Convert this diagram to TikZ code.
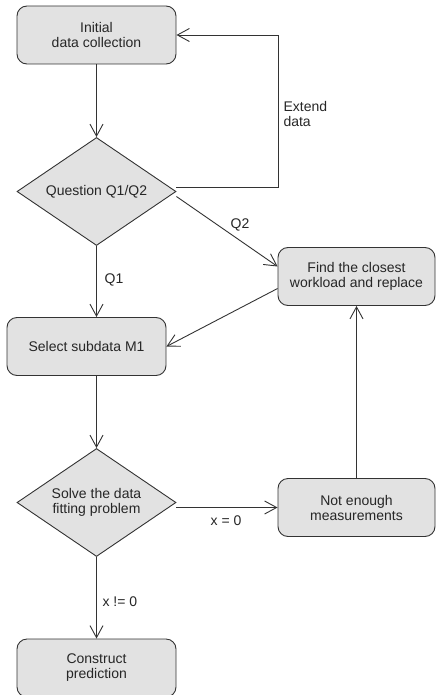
\documentclass[tikz,border=0pt]{standalone}
\usepackage{fontspec}
\setmainfont{Liberation Sans}
\usetikzlibrary{shapes.geometric,arrows.meta}
\definecolor{boxfill}{HTML}{E2E2E2}
\definecolor{linegray}{HTML}{333333}
\begin{document}
\begin{tikzpicture}[
        x=1pt,
        y=-1pt,
        font=\fontsize{14}{15}\selectfont,
        text=black!85,
        stepbox/.style={
            draw=linegray,
            fill=boxfill,
            rounded corners=10pt,
            minimum width=159pt,
            minimum height=58pt,
            align=center,
            line width=0.9pt,
        },
        decision/.style={
            draw=linegray,
            fill=boxfill,
            diamond,
            minimum width=159pt,
            minimum height=108pt,
            inner sep=0pt,
            line width=0.9pt,
        },
        flow/.style={
            draw=linegray,
            line width=0.9pt,
            -{Straight Barb[length=12pt,width=13pt]},
        },
    ]
    \useasboundingbox (0,0) rectangle (436,695);
    \node[stepbox] (init) at (96.5,35) {Initial\\data collection};
    \node[decision, label={[align=center]center:Question Q1/Q2}] (question) at (96.5,191.5) {};
    \node[stepbox, minimum width=157pt] (closest) at (356.5,276.5) {Find the closest\\workload and replace};
    \node[stepbox] (select) at (86.5,346.5) {Select subdata M1};
    \node[decision, label={[align=center]center:Solve the data\\fitting problem}] (solve) at (96.5,502.5) {};
    \node[stepbox, minimum width=157pt] (notenough) at (356.5,507.5) {Not enough\\measurements};
    \node[stepbox] (construct) at (96.5,668) {Construct\\prediction};

    \draw[flow] (init) -- (question);
    \draw[flow] ([yshift=4pt]question.east) -- ++(102,0) |- (init.east);
    \node[anchor=west, align=left] (extend) at (280,114) {Extend\\data};
    \draw[flow] ([yshift=-5pt]question.east) -- ([yshift=10pt]closest.west);
    \node (q2lbl) at (240,225) {Q2};
    \draw[flow] (question.south) -- (question.south |- select.north);
    \node (q1lbl) at (114,280) {Q1};
    \draw[flow] ([yshift=-12pt]closest.west) -- (select.east);
    \draw[flow] (select.south -| solve) -- (solve.north);
    \draw[flow] (solve.east |- notenough.west) -- (notenough.west);
    \node (zerolbl) at (226,521) {x = 0};
    \draw[flow] (notenough) -- (closest);
    \draw[flow] (solve) -- (construct);
    \node[anchor=west] (nonzerolbl) at (99,602) {x != 0};
\end{tikzpicture}
\end{document}
